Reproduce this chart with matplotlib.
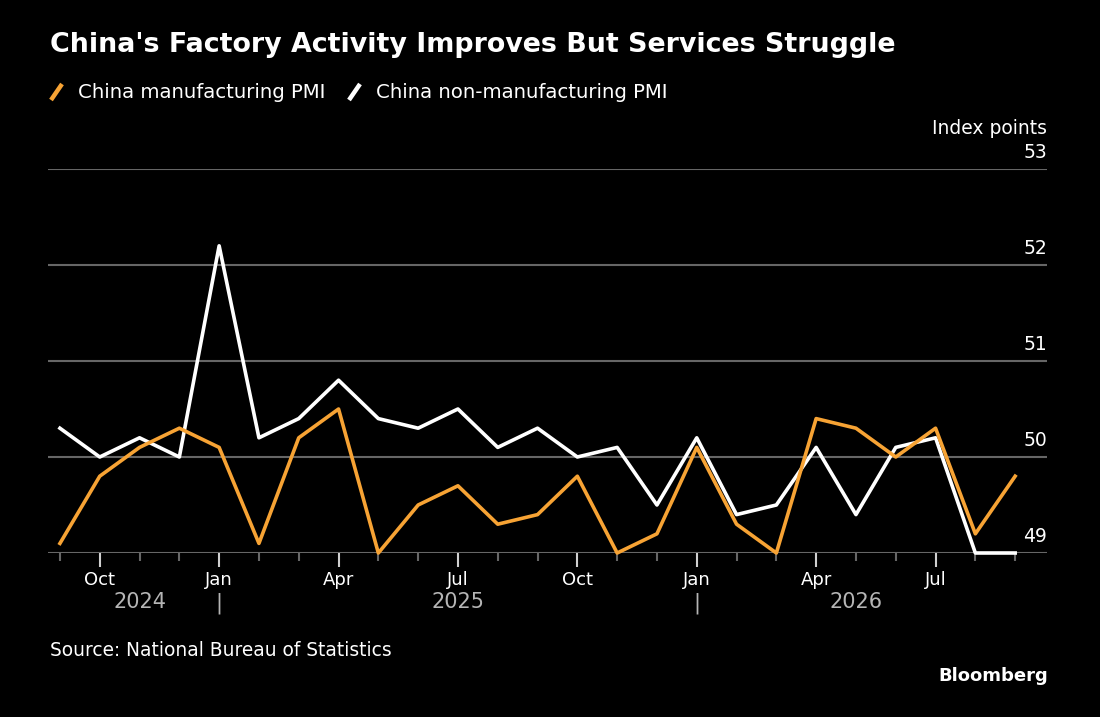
import matplotlib
matplotlib.use('Agg')
import matplotlib.pyplot as plt
from matplotlib.lines import Line2D
from matplotlib.transforms import blended_transform_factory

# months Sep 2024 .. Sep 2026
months = ['Sep', 'Oct', 'Nov', 'Dec', 'Jan', 'Feb', 'Mar', 'Apr', 'May', 'Jun', 'Jul', 'Aug',
          'Sep', 'Oct', 'Nov', 'Dec', 'Jan', 'Feb', 'Mar', 'Apr', 'May', 'Jun', 'Jul', 'Aug', 'Sep']
manufacturing = [49.1, 49.8, 50.1, 50.3, 50.1, 49.1, 50.2, 50.5, 49.0, 49.5, 49.7, 49.3,
                 49.4, 49.8, 49.0, 49.2, 50.1, 49.3, 49.0, 50.4, 50.3, 50.0, 50.3, 49.2, 49.8]
non_manufacturing = [50.3, 50.0, 50.2, 50.0, 52.2, 50.2, 50.4, 50.8, 50.4, 50.3, 50.5, 50.1,
                     50.3, 50.0, 50.1, 49.5, 50.2, 49.4, 49.5, 50.1, 49.4, 50.1, 50.2, 49.0, 49.0]
years = ['2024', '2025', '2026']
year_start = [0, 4, 16]
year_end = [4, 16, 24]
y_ticks = [49, 50, 51, 52, 53]

ORANGE = '#f7a334'
GRID = '#666666'
YEARGREY = '#b5b5b5'

plt.rcParams['font.family'] = ['DejaVu Sans']

W, H = 1100, 717
fig = plt.figure(figsize=(11, 7.17), dpi=100, facecolor='black')
ax = fig.add_axes([48 / W, 1 - 553 / H, (1047 - 48) / W, (553 - 169) / H])
ax.set_facecolor('black')

x = list(range(len(months)))
ax.plot(x, non_manufacturing, color='white', lw=2.6, clip_on=False, zorder=3)
ax.plot(x, manufacturing, color=ORANGE, lw=2.6, clip_on=False, zorder=4)

ax.set_xlim(-0.3, 24.8)
ax.set_ylim(49, 53)

ytr = blended_transform_factory(ax.transAxes, ax.transData)
for v in y_ticks:
    ax.axhline(v, color=GRID, lw=1.5, zorder=1)
    ax.text(1.0, v + 0.07, str(v), transform=ytr, ha='right', va='bottom',
            color='white', fontsize=13.5)
ax.text(1.0, 53.32, 'Index points', transform=ytr, ha='right', va='bottom',
        color='white', fontsize=13.5)

for s in ax.spines.values():
    s.set_visible(False)
ax.set_yticks([])

major = [i for i, m in enumerate(months) if m in ('Oct', 'Jan', 'Apr', 'Jul')]
ax.set_xticks(major)
ax.set_xticklabels([months[i] for i in major], color='white', fontsize=13)
ax.set_xticks(x, minor=True)
ax.tick_params(axis='x', which='major', length=10, width=1.5, color='#cfcfcf', pad=3)
ax.tick_params(axis='x', which='minor', length=6, width=1.5, color=GRID)

tr = blended_transform_factory(ax.transData, fig.transFigure)
for name, a, b in zip(years, year_start, year_end):
    ax.text((a + b) / 2, 1 - 602 / H, name, transform=tr, ha='center', va='center',
            color=YEARGREY, fontsize=15)
for a in year_start[1:]:
    ax.text(a, 1 - 603 / H, '|', transform=tr, ha='center', va='center',
            color=YEARGREY, fontsize=15)

fig.text(50 / W, 1 - 45 / H, "China's Factory Activity Improves But Services Struggle",
         color='white', fontsize=19.4, fontweight='bold', va='center')

# legend
for x0, col in [(51, ORANGE), (349, 'white')]:
    fig.add_artist(Line2D([x0 / W, (x0 + 11) / W], [1 - 100 / H, 1 - 84 / H],
                          color=col, lw=3.2, solid_capstyle='butt'))
fig.text(78 / W, 1 - 92 / H, 'China manufacturing PMI', color='white', fontsize=14.2, va='center')
fig.text(376 / W, 1 - 92 / H, 'China non-manufacturing PMI', color='white', fontsize=14.2, va='center')

fig.text(50 / W, 1 - 650 / H, 'Source: National Bureau of Statistics', color='white',
         fontsize=13.4, va='center')
fig.text(1048 / W, 1 - 676 / H, 'Bloomberg', color='white', fontsize=13,
         fontweight='bold', ha='right', va='center')

fig.savefig('out.png', dpi=100, facecolor='black')
